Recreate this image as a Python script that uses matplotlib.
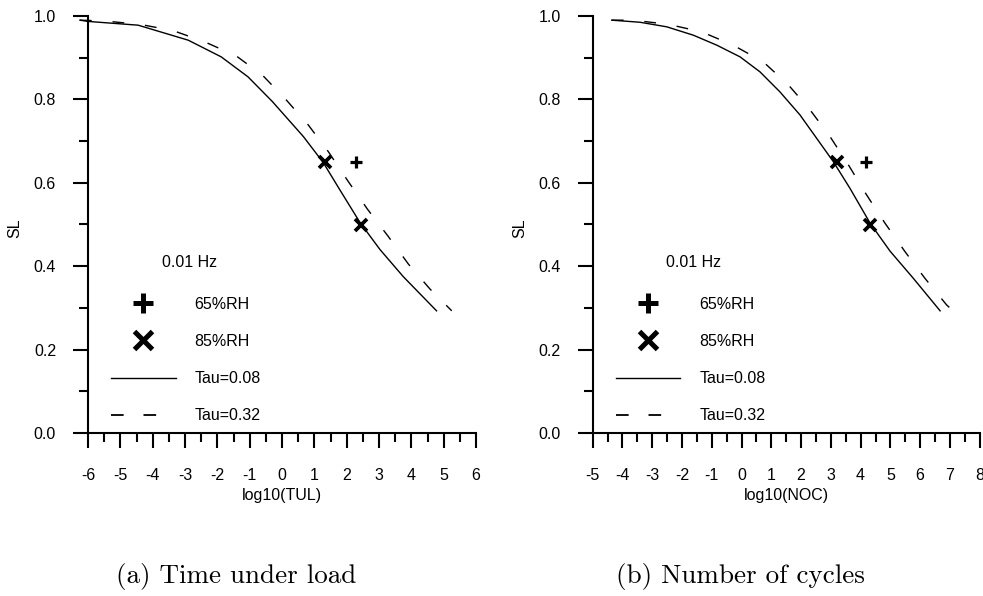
import matplotlib
matplotlib.use('Agg')
import matplotlib.pyplot as plt
from matplotlib.lines import Line2D
from matplotlib.ticker import MultipleLocator

plt.rcParams['font.family'] = ['Liberation Sans', 'DejaVu Sans']
plt.rcParams['axes.unicode_minus'] = False

# ---- data ----
# (a) time under load
tul_solid_x = [-6.25, -6.0, -4.45, -2.9, -1.88, -1.05, -0.3, 0.66, 1.28, 1.79, 2.41, 3.03, 3.75, 4.78]
tul_solid_y = [0.99, 0.987, 0.978, 0.942, 0.902, 0.854, 0.795, 0.711, 0.648, 0.583, 0.505, 0.44, 0.375, 0.293]
tul_dash_x = [-6.25, -5.48, -4.4, -3.37, -2.39, -1.41, -0.59, 0.14, 0.81, 1.43, 2.05, 2.65, 3.29, 3.91, 4.58, 5.25]
tul_dash_y = [0.99, 0.988, 0.980, 0.965, 0.938, 0.904, 0.857, 0.798, 0.739, 0.675, 0.603, 0.536, 0.471, 0.405, 0.345, 0.293]
tul_rh65_x = [2.29]
tul_rh65_y = [0.65]
tul_rh85_x = [1.33, 2.43]
tul_rh85_y = [0.65, 0.50]

# (b) number of cycles
noc_solid_x = [-4.36, -3.41, -2.51, -1.62, -0.83, -0.05, 0.62, 1.29, 1.96, 2.52, 3.08, 3.64, 4.32, 4.99, 5.77, 6.67]
noc_solid_y = [0.99, 0.985, 0.974, 0.954, 0.930, 0.902, 0.866, 0.818, 0.763, 0.707, 0.651, 0.587, 0.503, 0.436, 0.371, 0.293]
noc_dash_x = [-4.36, -3.64, -2.46, -1.34, -0.28, 0.73, 1.57, 2.30, 2.97, 3.59, 4.2, 4.82, 5.49, 6.16, 6.89, 7.06]
noc_dash_y = [0.99, 0.99, 0.980, 0.962, 0.930, 0.890, 0.835, 0.775, 0.711, 0.643, 0.571, 0.503, 0.435, 0.371, 0.307, 0.296]
noc_rh65_x = [4.18]
noc_rh65_y = [0.65]
noc_rh85_x = [3.2, 4.32]
noc_rh85_y = [0.65, 0.50]

panels = [
    dict(xlim=(-6, 6), xlabel='log10(TUL)', caption='(a) Time under load',
         solid=(tul_solid_x, tul_solid_y), dash=(tul_dash_x, tul_dash_y),
         rh65=(tul_rh65_x, tul_rh65_y), rh85=(tul_rh85_x, tul_rh85_y)),
    dict(xlim=(-5, 8), xlabel='log10(NOC)', caption='(b) Number of cycles',
         solid=(noc_solid_x, noc_solid_y), dash=(noc_dash_x, noc_dash_y),
         rh65=(noc_rh65_x, noc_rh65_y), rh85=(noc_rh85_x, noc_rh85_y)),
]

W, H = 983, 596
fig = plt.figure(figsize=(W / 100, H / 100), dpi=100)
axes_left = [88, 592.7]
axes_width = [388, 387]
caption_x = [236, 740]
dash_style = (0, (8.5, 15))
fs = 11.5

for i, p in enumerate(panels):
    ax = fig.add_axes([axes_left[i] / W, 1 - 433 / H, axes_width[i] / W, 417 / H])
    ax.plot(*p['solid'], color='black', lw=1.0, clip_on=False)
    ax.plot(*p['dash'], color='black', lw=1.0, ls=dash_style, clip_on=False)
    ax.plot(*p['rh65'], ls='none', marker='+', ms=8.6, mew=2.3, color='black')
    ax.plot(*p['rh85'], ls='none', marker='x', ms=9.3, mew=2.7, color='black')

    ax.set_xlim(*p['xlim'])
    ax.set_ylim(0, 1)
    ax.xaxis.set_major_locator(MultipleLocator(1))
    ax.xaxis.set_minor_locator(MultipleLocator(0.5))
    ax.yaxis.set_major_locator(MultipleLocator(0.2))
    ax.yaxis.set_minor_locator(MultipleLocator(0.1))
    ax.yaxis.set_major_formatter(lambda v, pos: f'{v:.1f}')
    for s in ['top', 'right']:
        ax.spines[s].set_visible(False)
    for s in ['left', 'bottom']:
        ax.spines[s].set_linewidth(1.5)
    ax.tick_params(which='major', direction='out', length=11, width=1.5, labelsize=fs)
    ax.tick_params(which='minor', direction='out', length=6.5, width=1.5)
    ax.tick_params(axis='x', which='major', pad=14.5)
    ax.tick_params(axis='y', which='major', pad=12)

    ax.set_xlabel(p['xlabel'], fontsize=fs)
    ax.xaxis.set_label_coords(0.5, -0.132)
    ax.set_ylabel('SL', fontsize=fs)
    ax.yaxis.set_label_coords(-0.17, 0.49)

    ax.text(0.19, 0.41, '0.01 Hz', transform=ax.transAxes, fontsize=fs,
            ha='left', va='center')
    handles = [
        Line2D([], [], ls='none', marker='+', ms=15, mew=3.6, color='black'),
        Line2D([], [], ls='none', marker='x', ms=12.6, mew=3.6, color='black'),
        Line2D([], [], color='black', lw=1.0),
        Line2D([], [], color='black', lw=1.3, ls=(0, (7, 11))),
    ]
    labels = ['65%RH', '85%RH', 'Tau=0.08', 'Tau=0.32']
    ax.legend(handles, labels, loc='lower left', bbox_to_anchor=(0.059, 0.023),
              frameon=False, fontsize=fs, handlelength=4.06, handletextpad=1.19,
              labelspacing=1.39, borderpad=0, borderaxespad=0)

    fig.text(caption_x[i] / W, 1 - 577 / H, p['caption'], ha='center', va='center',
             fontfamily='cmr10', fontsize=19.5)

fig.savefig('out.png', dpi=100)
